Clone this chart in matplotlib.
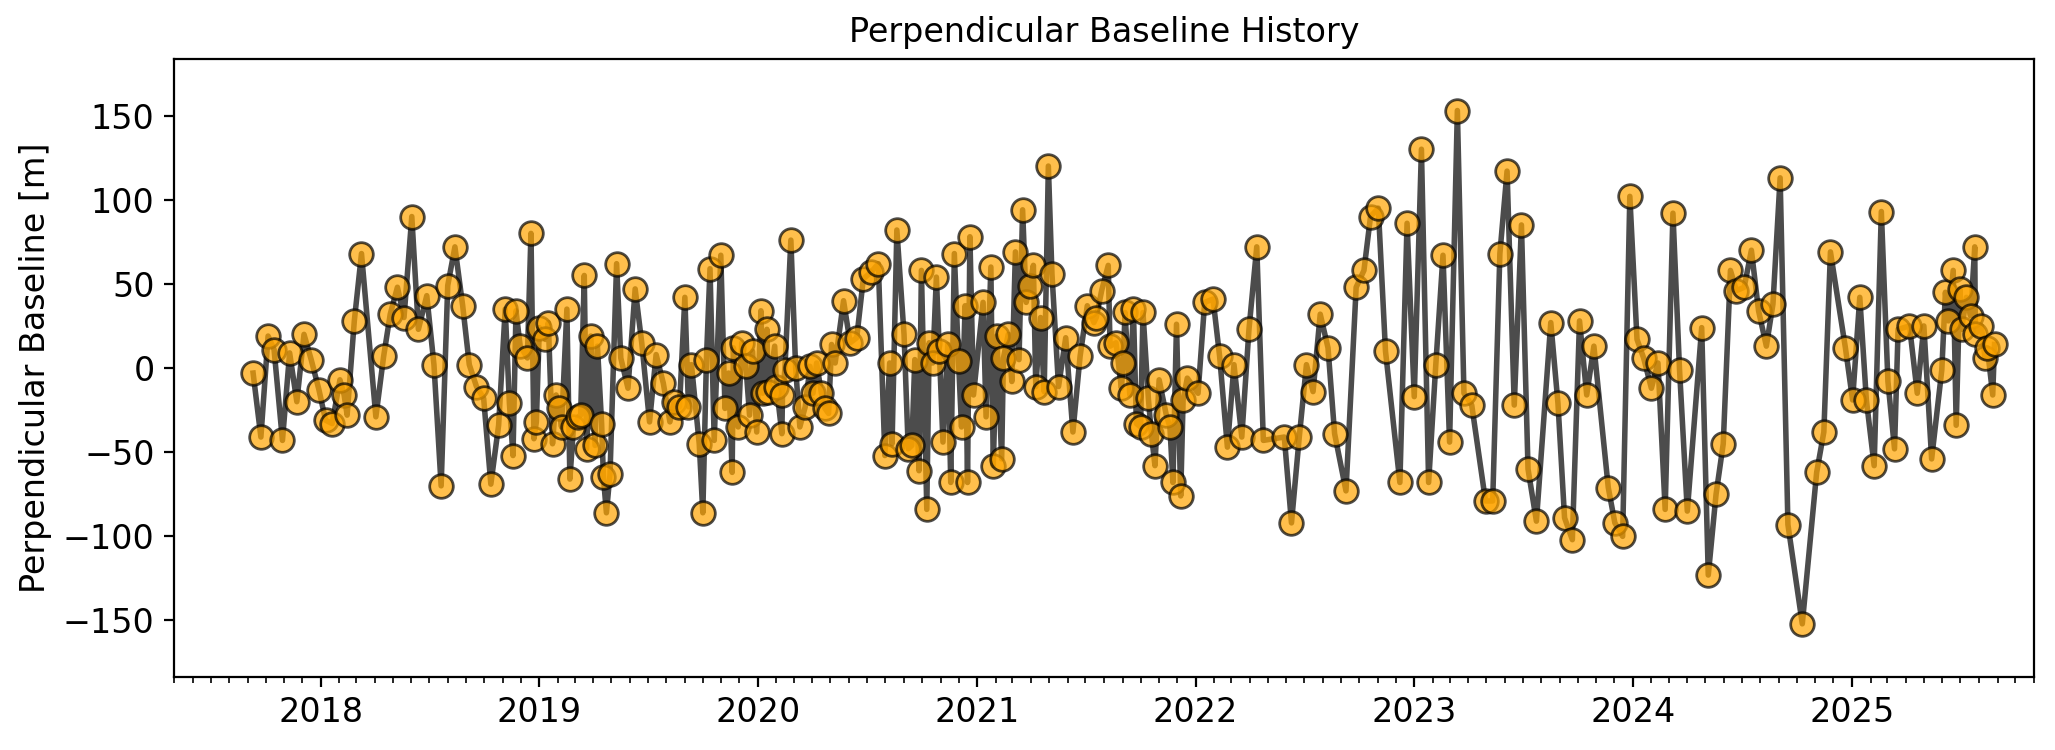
import matplotlib
matplotlib.use('Agg')
import matplotlib.pyplot as plt
import matplotlib.dates as mdates
import numpy as np
import pandas as pd

# acquisition dates, as days after 2018-01-01
days_since_2018 = [
    -113, -100, -88, -78, -64, -52, -40, -28, -16, -3, 8, 19, 32, 39, 44, 56, 68, 92, 105, 116,
    128, 139, 152, 163, 177, 189, 201, 212, 224, 237, 248, 260, 272, 284, 297, 308, 315, 321, 326, 333,
    345, 351, 356, 360, 365, 375, 380, 387, 393, 398, 402, 411, 416, 422, 430, 434, 440, 444, 451, 458,
    462, 469, 472, 477, 483, 494, 501, 513, 525, 536, 549, 560, 572, 583, 590, 599, 608, 614, 619, 632,
    638, 644, 650, 657, 668, 675, 681, 687, 689, 697, 703, 710, 716, 721, 728, 735, 738, 745, 747, 758,
    761, 770, 771, 775, 785, 793, 800, 809, 817, 822, 828, 836, 842, 848, 853, 859, 873, 884, 895, 906,
    919, 931, 942, 950, 954, 962, 974, 981, 987, 992, 999, 1003, 1012, 1016, 1022, 1028, 1033, 1039, 1047, 1052,
    1058, 1065, 1070, 1076, 1080, 1084, 1090, 1106, 1111, 1119, 1123, 1129, 1137, 1140, 1148, 1154, 1160, 1166, 1172, 1178,
    1184, 1190, 1194, 1202, 1208, 1215, 1221, 1232, 1244, 1256, 1268, 1280, 1291, 1295, 1304, 1315, 1318, 1328, 1337, 1340,
    1343, 1351, 1357, 1362, 1369, 1373, 1382, 1387, 1393, 1400, 1412, 1418, 1423, 1429, 1436, 1440, 1447, 1465, 1476, 1490,
    1501, 1514, 1525, 1538, 1550, 1563, 1574, 1609, 1621, 1634, 1646, 1657, 1669, 1682, 1693, 1712, 1729, 1742, 1753, 1766,
    1778, 1802, 1814, 1826, 1838, 1850, 1862, 1874, 1885, 1898, 1909, 1922, 1945, 1957, 1969, 1981, 1993, 2005, 2016, 2030,
    2054, 2066, 2077, 2090, 2102, 2114, 2126, 2150, 2161, 2174, 2186, 2198, 2209, 2222, 2233, 2245, 2258, 2269, 2282, 2306,
    2317, 2330, 2342, 2354, 2364, 2377, 2389, 2401, 2414, 2425, 2437, 2450, 2474, 2498, 2510, 2521, 2546, 2558, 2570, 2581,
    2594, 2606, 2617, 2628, 2634, 2653, 2666, 2677, 2690, 2707, 2713, 2718, 2726, 2731, 2737, 2740, 2748, 2755, 2762, 2763,
    2773, 2779, 2783, 2792, 2795,
]

# perpendicular baseline [m]
bperp_m = [
    -3, -41, 19, 11, -43, 9, -20, 20, 5, -13, -31, -33, -7, -16, -28, 28, 68, -29, 7, 32,
    48, 30, 90, 23, 43, 2, -70, 49, 72, 37, 2, -11, -18, -69, -34, 35, -21, -52, 34, 13,
    6, 80, -42, -32, 24, 17, 27, -45, -16, -24, -35, 35, -66, -35, -29, -28, 55, -48, 19, -46,
    13, -33, -65, -86, -63, 62, 6, -12, 47, 15, -32, 8, -9, -32, -20, -23, 42, -23, 2, -45,
    -86, 5, 59, -43, 67, -24, -3, -62, 12, -35, 15, 1, -28, 10, -38, 34, -15, 23, -14, 13,
    -11, -39, -16, -1, 76, 0, -35, -23, 1, -15, 3, -15, -24, -27, 14, 3, 40, 15, 18, 53,
    57, 62, -52, 3, -45, 82, 20, -48, -46, 5, -61, 58, -84, 15, 3, 54, 10, -44, 14, -68,
    68, 4, -35, 37, -68, 78, -16, 39, -29, 60, -58, 19, -54, 6, 20, -8, 69, 5, 94, 39,
    49, 61, -11, 30, -14, 120, 56, -11, 18, -38, 7, 37, 27, 30, 46, 61, 13, 15, -12, 3,
    33, -16, 35, -33, -35, 33, -18, -39, -58, -7, -28, -35, -68, 26, -76, -19, -6, -15, 39, 41,
    7, -47, 2, -41, 23, 72, -43, -41, -92, -41, 2, -14, 32, 12, -39, -73, 48, 58, 90, 95,
    10, -68, 86, -17, 130, -68, 2, 67, -44, 153, -15, -22, -79, -79, 68, 117, -22, 85, -60, -91,
    27, -21, -89, -102, 28, -16, 13, -71, -92, -100, 102, 17, 6, -12, 3, -84, 92, -1, -85, 24,
    -123, -75, -45, 58, 46, 48, 70, 34, 13, 38, 113, -93, -152, -62, -38, 69, 12, -19, 42, -19,
    -58, 93, -8, -48, 23, 25, -15, 25, -54, -1, 45, 28, 58, -34, 47, 23, 42, 31, 72, 20,
    25, 6, 12, -16, 14,
]

dates = pd.Timestamp('2018-01-01') + pd.to_timedelta(days_since_2018, unit='D')
bperp = np.array(bperp_m, dtype=float)

fig, ax = plt.subplots(figsize=(10.275, 3.75), dpi=200)
fig.subplots_adjust(left=0.0847, right=0.9898, bottom=0.0973, top=0.9213)

ax.plot(dates, bperp, '-o', color='black', alpha=0.7, linewidth=2,
        markersize=8.5, markerfacecolor='orange', markeredgecolor='black')

ax.set_title('Perpendicular Baseline History', fontsize=12)
ax.set_ylabel('Perpendicular Baseline [m]', fontsize=12)

lim = 1.2 * np.abs(bperp).max()
ax.set_ylim(-lim, lim)
ax.set_xlim(pd.Timestamp('2017-05-01'), pd.Timestamp('2025-11-01'))

ax.xaxis.set_major_locator(mdates.YearLocator())
ax.xaxis.set_minor_locator(mdates.MonthLocator())
ax.xaxis.set_major_formatter(mdates.DateFormatter('%Y'))
ax.tick_params(axis='both', which='major', labelsize=12)

plt.savefig('out.png', dpi=200)
plt.close()
